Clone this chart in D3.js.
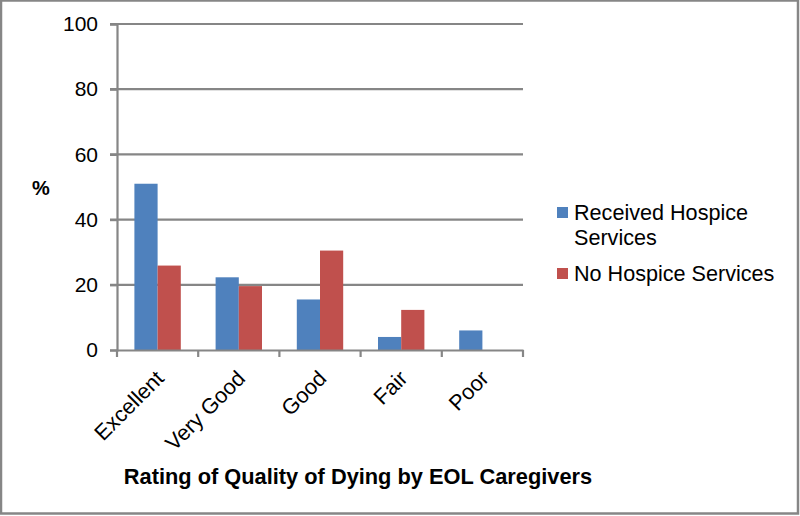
<!DOCTYPE html>
<html>
<head>
<meta charset="utf-8">
<script src="https://cdn.jsdelivr.net/npm/d3@7"></script>
<style>
  body { margin: 0; background: #fff; }
  svg text { font-family: 'Liberation Sans', Arial, sans-serif; fill: #000; }
</style>
</head>
<body>
<svg id="chart" width="800" height="516"></svg>
<script>
const categories = ['Excellent', 'Very Good', 'Good', 'Fair', 'Poor']
const seriesNames = ['Received Hospice Services', 'No Hospice Services']
const hospice = [51.0, 22.3, 15.5, 4.0, 6.0]
const noHospice = [25.9, 19.6, 30.5, 12.3, 0]
const yTicks = [0, 20, 40, 60, 80, 100]
const colors = ['#4F81BD', '#C0504D']

const svg = d3.select('#chart')
const width = +svg.attr('width')
const height = +svg.attr('height')
const grey = '#868686'
const fs = '21.6px'

// outer frame
svg.append('rect')
  .attr('x', 1).attr('y', 0.5)
  .attr('width', width - 3).attr('height', height - 3)
  .attr('fill', 'none')
  .attr('stroke', grey)
  .attr('stroke-width', 2.5)

const plot = { left: 117, right: 523, top: 24, bottom: 350 }

const x = d3.scaleBand()
  .domain(categories)
  .range([plot.left, plot.right])
  .paddingInner(0)

// gap width 150% -> bar width = band / 3.5
const barW = x.bandwidth() / 3.5
const x1 = d3.scaleBand()
  .domain([0, 1])
  .range([barW * 0.75, barW * 2.75])

const y = d3.scaleLinear()
  .domain([0, 100])
  .range([plot.bottom, plot.top])

// gridlines
svg.append('g')
  .selectAll('line')
  .data(yTicks.filter(t => t > 0))
  .join('line')
  .attr('x1', plot.left - 7)
  .attr('x2', plot.right)
  .attr('y1', d => y(d))
  .attr('y2', d => y(d))
  .attr('stroke', grey)
  .attr('stroke-width', 2.2)

// bars
const rows = categories.map((c, i) => ({ cat: c, vals: [hospice[i], noHospice[i]] }))
svg.append('g')
  .selectAll('g')
  .data(rows)
  .join('g')
  .attr('transform', d => `translate(${x(d.cat)},0)`)
  .selectAll('rect')
  .data(d => d.vals.map((v, k) => ({ v, k })))
  .join('rect')
  .attr('x', d => x1(d.k))
  .attr('width', x1.bandwidth())
  .attr('y', d => y(d.v))
  .attr('height', d => y(0) - y(d.v))
  .attr('fill', d => colors[d.k])

// y axis
const yAxis = svg.append('g')
  .attr('transform', `translate(${plot.left},0)`)
  .call(d3.axisLeft(y).tickValues(yTicks).tickSize(7).tickPadding(12))
yAxis.select('.domain').attr('stroke', grey).attr('stroke-width', 2.2)
yAxis.selectAll('.tick line').attr('stroke', grey).attr('stroke-width', 2.2)
yAxis.selectAll('.tick text')
  .style('font-size', '21px')
  .style('font-family', "'Liberation Sans', Arial, sans-serif")
  .attr('fill', '#000')

// x axis
const xAxis = svg.append('g')
  .attr('transform', `translate(0,${plot.bottom})`)
  .call(d3.axisBottom(x).tickSize(0).tickFormat(''))
xAxis.select('.domain').attr('stroke', grey).attr('stroke-width', 2.2)
xAxis.selectAll('.tick').remove()
const bounds = [plot.left].concat(categories.map(c => x(c) + x.bandwidth()))
xAxis.selectAll('line.sep')
  .data(bounds)
  .join('line')
  .attr('class', 'sep')
  .attr('x1', d => d).attr('x2', d => d)
  .attr('y1', 0).attr('y2', 7)
  .attr('stroke', grey)
  .attr('stroke-width', 2.2)

// category labels, rotated
svg.append('g')
  .selectAll('text')
  .data(categories)
  .join('text')
  .attr('transform', d => `translate(${x(d) + x.bandwidth() / 2 - 3},${plot.bottom + 19}) rotate(-45)`)
  .attr('text-anchor', 'end')
  .attr('dy', '0.7em')
  .style('font-size', fs)
  .text(d => d)

// axis titles
svg.append('text')
  .attr('x', 41).attr('y', 195)
  .attr('text-anchor', 'middle')
  .style('font-size', '20px')
  .style('font-weight', 'bold')
  .text('%')

svg.append('text')
  .attr('x', 358).attr('y', 484)
  .attr('text-anchor', 'middle')
  .style('font-size', '21.8px')
  .style('font-weight', 'bold')
  .text('Rating of Quality of Dying by EOL Caregivers')

// legend
const legend = svg.append('g').attr('transform', 'translate(557,0)')
const legendRows = [
  { lines: ['Received Hospice', 'Services'], y: 220 },
  { lines: ['No Hospice Services'], y: 281 }
]
legendRows.forEach((r, i) => {
  legend.append('rect')
    .attr('x', 0).attr('y', r.y - 13)
    .attr('width', 11).attr('height', 11)
    .attr('fill', colors[i])
  const t = legend.append('text')
    .attr('x', 17).attr('y', r.y)
    .style('font-size', fs)
  r.lines.forEach((l, j) => {
    t.append('tspan').attr('x', 17).attr('dy', j === 0 ? 0 : 25).text(l)
  })
})
</script>
</body>
</html>
